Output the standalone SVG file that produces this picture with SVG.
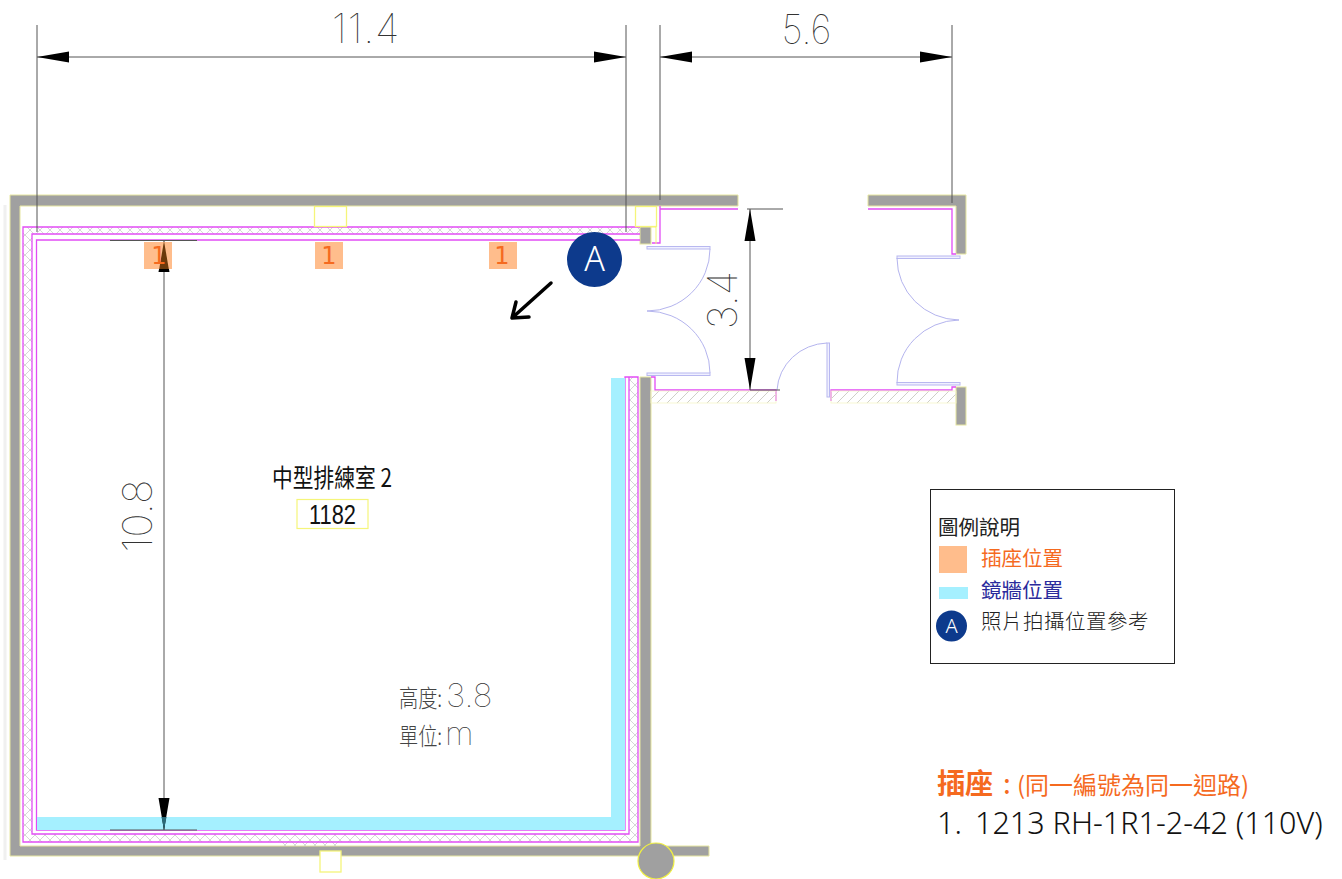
<svg xmlns="http://www.w3.org/2000/svg" width="1342" height="879" viewBox="0 0 1342 879">
<style>
.wall{fill:#a0a0a0;stroke:#e6e6a0;stroke-width:1}
.pk{fill:none;stroke:#e24cf5;stroke-width:1.3}
.yb{fill:#fff;stroke:#f5f57a;stroke-width:1.3}
.door{fill:#f0f0ff;stroke:#b8b8f0;stroke-width:1}
.arc{fill:none;stroke:#b4b4ee;stroke-width:1}
.dim{fill:none;stroke:#555;stroke-width:1}
.ah{fill:#000}
.or{fill:#ffbd8c}
.cy{fill:#a5f0ff}
.dt{font-family:"Inter","Liberation Sans",sans-serif;font-weight:100;fill:#333;font-size:41px}
.cjk{font-family:"Noto Sans CJK TC","Noto Sans",sans-serif}
.thin{font-family:"Noto Sans CJK TC",sans-serif;font-weight:300;fill:#444}
.lg{font-family:"Noto Sans CJK TC",sans-serif;font-size:20.5px;font-weight:400}
.num{font-family:"DejaVu Sans",sans-serif;font-size:24px;fill:#f56a1f;text-anchor:middle}
</style>
<defs>
<pattern id="xh" width="10" height="10" patternUnits="userSpaceOnUse">
<path d="M0 0L10 10M10 0L0 10" stroke="#d6d6d6" stroke-width="1" fill="none"/>
</pattern>
<pattern id="dh" width="10" height="10" patternUnits="userSpaceOnUse">
<path d="M0 10L10 0M-2 2L2 -2M8 12L12 8" stroke="#cfcfc8" stroke-width="1" fill="none"/>
</pattern>
</defs>
<rect width="1342" height="879" fill="#fff"/>
<g id="plan">
<path d="M5 205V860" stroke="#f0f0f0" stroke-width="3" fill="none"/>
<path class="wall" d="M10 195H738V206H20V846H640V377H651V846H709V856H10Z"/>
<rect class="wall" x="640" y="227" width="11" height="17"/>
<path class="wall" d="M868 195H966V254H956V206H868Z"/>
<rect class="wall" x="956" y="387" width="10" height="38"/>
<circle cx="656" cy="861" r="18" fill="#a0a0a0" stroke="#f0f040" stroke-width="1.2"/>
<path d="M23 227H640V234H32V834H629V377H638V842H23Z" fill="url(#xh)"/>
<rect x="278" y="842" width="62" height="4" fill="url(#xh)"/>
<path class="pk" d="M640 227H23V842H638V377H625V830H36.500V240H640M640 234H32V834H629V377"/>
<path class="pk" d="M660 206V243H652M660 209H738"/>
<path class="pk" d="M651 377H655V390H776V401M831 401V390H952V387H956"/>
<path class="pk" d="M868 209H952V254H956"/>
<rect x="651" y="391" width="125" height="12" fill="url(#dh)" stroke="#f6f6c8" stroke-width=".8"/>
<rect x="831" y="391" width="125" height="12" fill="url(#dh)" stroke="#f6f6c8" stroke-width=".8"/>
<rect class="yb" x="314.500" y="206.500" width="32" height="20"/>
<rect class="yb" x="635.500" y="206.500" width="21" height="20"/>
<path d="M651 227H656V244" fill="none" stroke="#f5f57a" stroke-width="1"/>
<rect class="yb" x="320" y="851" width="21" height="21"/>
</g>
<g id="doors">
<rect class="door" x="647" y="246.500" width="63" height="2.500"/>
<path class="arc" d="M710 249A63 62 0 0 1 647 311"/>
<rect class="door" x="647" y="373" width="63" height="2.500"/>
<path class="arc" d="M710 373A63 62 0 0 0 647 311"/>
<rect class="door" x="827" y="343" width="2.500" height="54"/>
<path class="arc" d="M827 343A52 50 0 0 0 777 390"/>
<rect class="door" x="897" y="256" width="63" height="2.500"/>
<path class="arc" d="M897 258A63 62 0 0 0 959 320"/>
<rect class="door" x="897" y="382.500" width="63" height="2.500"/>
<path class="arc" d="M897 383A63 62 0 0 1 959 320"/>
</g>
<g id="mirror"><path class="cy" d="M611 378H625V830H37V817H611Z"/></g>
<g id="connectors">
<path class="dim" d="M37 25V232M626 25V232M37 57H626M660 25V200M952 25V203M660 57H952"/>
<path class="dim" d="M750 209V390M747 209H783M750 390H780M164 241V830M110 240.500H197M110 830H197"/>
<path class="ah" d="M37 57L69 51.500V62.500ZM626 57L594 51.500V62.500ZM660 57L692 51.500V62.500ZM952 57L920 51.500V62.500Z"/>
<path class="ah" d="M750 209L744.500 241H755.500ZM750 390L744.500 358H755.500ZM164 241L158.500 272H169.500ZM164 830L158.500 798H169.500Z"/>
<path d="M551 283L512 318M516 302L512 318L529 317" fill="none" stroke="#000" stroke-width="3.500" stroke-linecap="round" stroke-linejoin="round"/>
</g>
<g id="outlets">
<rect class="or" x="144" y="242" width="28" height="27"/>
<path d="M164 241L159.200 269H168.800Z" fill="#6b3a0c"/>
<rect class="or" x="315" y="242" width="28" height="27"/>
<rect class="or" x="489" y="242" width="28" height="27"/>
<text class="num" x="159" y="264">1</text>
<text class="num" x="329" y="264">1</text>
<text class="num" x="502" y="264">1</text>
<path d="M164 830L161.500 817H166.500Z" fill="#2a6a78"/>
</g>
<g id="dimension-labels">
<text class="dt" x="366" y="43" text-anchor="middle" letter-spacing=".7">11.4</text>
<text class="dt" text-anchor="middle" transform="translate(806.500 44) scale(.9 1)">5.6</text>
<text class="dt" text-anchor="middle" transform="translate(737 300) rotate(-90)">3.4</text>
<text class="dt" text-anchor="middle" transform="translate(152 516) rotate(-90)">10.8</text>
</g>
<g id="marker-a">
<circle cx="594.500" cy="259.500" r="27.500" fill="#0d3a8c"/>
<text x="594.500" y="271" text-anchor="middle" font-family="Noto Sans,sans-serif" font-weight="300" font-size="34" fill="#fff">A</text>
</g>
<g id="room-label">
<text class="thin" style="fill:#111;font-weight:400" transform="translate(272 487) scale(.83 1)" font-size="25">中型排練室 2</text>
<rect x="297" y="499.500" width="71" height="29" fill="#fff" stroke="#f5f57a" stroke-width="1.200"/>
<text transform="translate(332.500 524) scale(.78 1)" text-anchor="middle" font-family="Liberation Sans,sans-serif" font-size="28" fill="#111">1182</text>
</g>
<g id="height-note">
<text class="thin" transform="translate(399 707) scale(.8 1)" font-size="24">高度:</text>
<text class="dt" x="446" y="707" style="font-size:33px">3.8</text>
<text class="thin" transform="translate(399 745) scale(.8 1)" font-size="24">單位:</text>
<text class="dt" x="445" y="745" style="font-size:33px">m</text>
</g>
<g id="legend">
<rect x="930.500" y="489.500" width="244" height="174" fill="#fff" stroke="#222" stroke-width="1"/>
<text class="lg" x="938" y="535" fill="#222">圖例說明</text>
<rect class="or" x="939" y="546" width="28" height="27"/>
<text class="lg" x="981" y="566" fill="#f56a1f">插座位置</text>
<rect class="cy" x="939" y="587" width="29" height="12"/>
<text class="lg" x="981" y="598" fill="#2b2b9c">鏡牆位置</text>
<circle cx="951.500" cy="626" r="15.500" fill="#0d3a8c"/>
<text x="951.500" y="633" text-anchor="middle" font-family="Noto Sans,sans-serif" font-weight="300" font-size="20" fill="#fff">A</text>
<text class="lg" x="981" y="629" fill="#222" letter-spacing=".5" style="font-weight:300">照片拍攝位置參考</text>
</g>
<g id="notes">
<text x="937" y="794" class="cjk" fill="#f56a1f" font-size="28" font-weight="700">插座</text>
<text x="1003" y="794" class="cjk" fill="#f56a1f" font-size="28">:</text>
<text x="1017" y="794" class="cjk" fill="#f56a1f" font-size="24" font-weight="400">(同一編號為同一迴路)</text>
<text x="937" y="834" font-family="Noto Sans,sans-serif" font-size="30.500" font-weight="300" fill="#111">1.</text>
<text x="975" y="834" font-family="Noto Sans,sans-serif" font-size="30.500" font-weight="300" fill="#111">1213 RH-1R1-2-42 (110V)</text>
</g>
</svg>
